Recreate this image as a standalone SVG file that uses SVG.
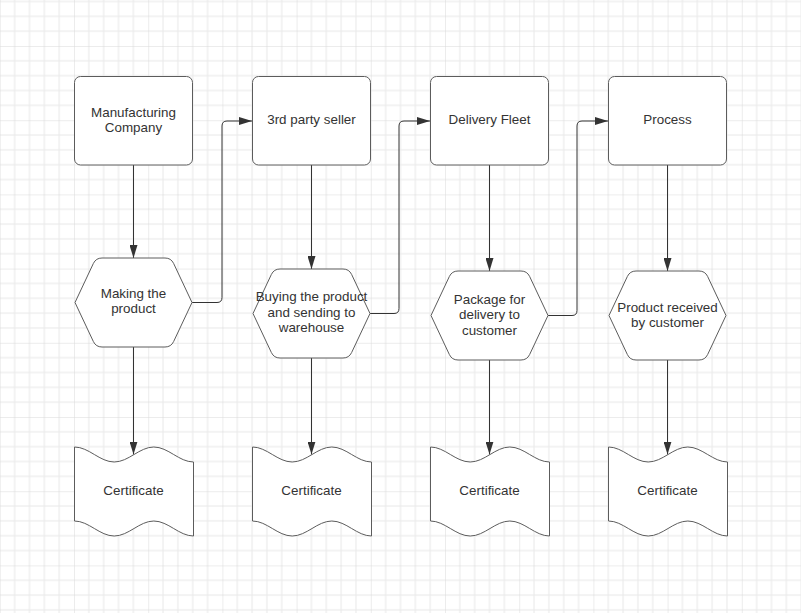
<svg xmlns="http://www.w3.org/2000/svg" width="801" height="613" viewBox="0 0 801 613">
  <defs>
    <!-- background grid: minor lines every 14.84px, major every 5th -->
    <pattern id="grid" patternUnits="userSpaceOnUse" x="-0.2" y="-28.2" width="74.2" height="74.2">
      <rect x="14.34" y="0" width="1" height="74.2" fill="#e8e8e8"/>
      <rect x="29.18" y="0" width="1" height="74.2" fill="#e8e8e8"/>
      <rect x="44.02" y="0" width="1" height="74.2" fill="#e8e8e8"/>
      <rect x="58.86" y="0" width="1" height="74.2" fill="#e8e8e8"/>
      <rect x="0" y="14.34" width="74.2" height="1" fill="#e8e8e8"/>
      <rect x="0" y="29.18" width="74.2" height="1" fill="#e8e8e8"/>
      <rect x="0" y="44.02" width="74.2" height="1" fill="#e8e8e8"/>
      <rect x="0" y="58.86" width="74.2" height="1" fill="#e8e8e8"/>
      <rect x="-0.5" y="0" width="1" height="74.2" fill="#d9d9d9"/>
      <rect x="0" y="-0.5" width="74.2" height="1" fill="#d9d9d9"/>
    </pattern>
    <marker id="arrow" markerUnits="userSpaceOnUse" markerWidth="13" markerHeight="8" refX="13" refY="4" orient="auto">
      <path d="M0,0 L13,4 L0,8 Z" fill="#333"/>
    </marker>
    <!-- process hexagon, 117 x 89 -->
    <path id="hex" d="M0,44.5 L18.4,5.4 Q21,0 27,0 L90,0 Q96,0 98.6,5.4 L117,44.5 L98.6,83.6 Q96,89 90,89 L27,89 Q21,89 18.4,83.6 Z"/>
    <!-- wavy tape shape, 119 x 89 -->
    <path id="tape" d="M0,0 C14.4,0 25.3,15 39.7,15 C54.1,15 65,0 79.3,0 C93.7,0 104.6,15 119,15 L119,89 C104.6,89 93.7,74 79.3,74 C65,74 54.1,89 39.7,89 C25.3,89 14.4,74 0,74 Z"/>
  </defs>
  <style>
    .shape { fill: #ffffff; stroke: #5c5c5c; stroke-width: 1; }
    .label { font-family: "Liberation Sans", Arial, sans-serif; font-size: 13.4px; fill: #333333; text-anchor: middle; }
    .conn { fill: none; stroke: #333333; stroke-width: 1; marker-end: url(#arrow); }
  </style>

  <rect x="0" y="0" width="801" height="613" fill="#ffffff"/>
  <rect x="0" y="0" width="801" height="613" fill="url(#grid)"/>

  <g id="connectors">
    <!-- top boxes down to hexagons -->
    <path class="conn" d="M133.5,165 L133.5,258"/>
    <path class="conn" d="M311.5,165 L311.5,269"/>
    <path class="conn" d="M489.5,165 L489.5,271"/>
    <path class="conn" d="M667.5,165 L667.5,271"/>
    <!-- hexagons down to certificates -->
    <path class="conn" d="M133.5,347 L133.5,454.5"/>
    <path class="conn" d="M311.5,358 L311.5,454.5"/>
    <path class="conn" d="M489.5,360 L489.5,454.5"/>
    <path class="conn" d="M667.5,360 L667.5,454.5"/>
    <!-- elbows from each hexagon up to the next stage -->
    <path class="conn" d="M192,302.5 L217,302.5 Q222,302.5 222,297.5 L222,126 Q222,121 227,121 L252,121"/>
    <path class="conn" d="M370,313.5 L394,313.5 Q399,313.5 399,308.5 L399,126 Q399,121 404,121 L430,121"/>
    <path class="conn" d="M548,315.5 L572,315.5 Q577,315.5 577,310.5 L577,126 Q577,121 582,121 L608,121"/>
  </g>

  <!-- stage 1 -->
  <g id="manufacturing-company">
    <rect class="shape" x="74.5" y="76.5" width="118" height="88.5" rx="6"/>
    <text class="label" x="133.5" y="116.5">Manufacturing</text>
    <text class="label" x="133.5" y="132">Company</text>
  </g>
  <g id="making-the-product">
    <use href="#hex" class="shape" x="75" y="258"/>
    <text class="label" x="133.5" y="297.5">Making the</text>
    <text class="label" x="133.5" y="313">product</text>
  </g>
  <g id="certificate-1">
    <use href="#tape" class="shape" x="74.5" y="447"/>
    <text class="label" x="133.5" y="495">Certificate</text>
  </g>

  <!-- stage 2 -->
  <g id="third-party-seller">
    <rect class="shape" x="252.5" y="76.5" width="118" height="88.5" rx="6"/>
    <text class="label" x="311.5" y="124">3rd party seller</text>
  </g>
  <g id="buying-the-product">
    <use href="#hex" class="shape" x="253" y="269"/>
    <text class="label" x="311.5" y="301">Buying the product</text>
    <text class="label" x="311.5" y="316.5">and sending to</text>
    <text class="label" x="311.5" y="332">warehouse</text>
  </g>
  <g id="certificate-2">
    <use href="#tape" class="shape" x="252.5" y="447"/>
    <text class="label" x="311.5" y="495">Certificate</text>
  </g>

  <!-- stage 3 -->
  <g id="delivery-fleet">
    <rect class="shape" x="430.5" y="76.5" width="118" height="88.5" rx="6"/>
    <text class="label" x="489.5" y="124">Delivery Fleet</text>
  </g>
  <g id="package-for-delivery">
    <use href="#hex" class="shape" x="431" y="271"/>
    <text class="label" x="489.5" y="303.5">Package for</text>
    <text class="label" x="489.5" y="319">delivery to</text>
    <text class="label" x="489.5" y="334.5">customer</text>
  </g>
  <g id="certificate-3">
    <use href="#tape" class="shape" x="430.5" y="447"/>
    <text class="label" x="489.5" y="495">Certificate</text>
  </g>

  <!-- stage 4 -->
  <g id="process">
    <rect class="shape" x="608.5" y="76.5" width="118" height="88.5" rx="6"/>
    <text class="label" x="667.5" y="124">Process</text>
  </g>
  <g id="product-received">
    <use href="#hex" class="shape" x="609" y="271"/>
    <text class="label" x="667.5" y="311.5">Product received</text>
    <text class="label" x="667.5" y="327">by customer</text>
  </g>
  <g id="certificate-4">
    <use href="#tape" class="shape" x="608.5" y="447"/>
    <text class="label" x="667.5" y="495">Certificate</text>
  </g>
</svg>
